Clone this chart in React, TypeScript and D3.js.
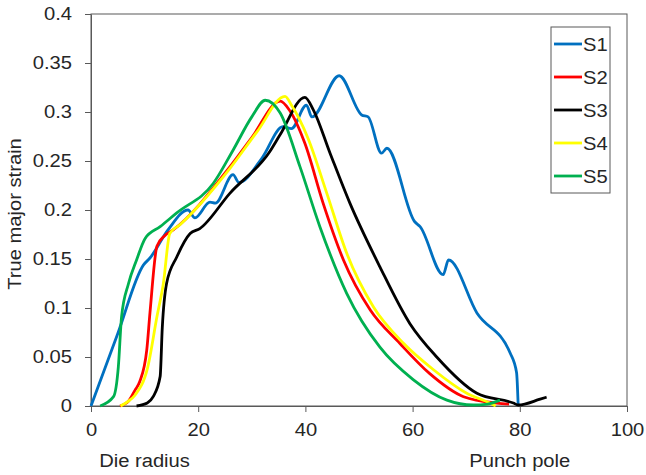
import { useEffect, useRef } from "react";
import * as d3 from "d3";

// distance along the blank (mm) and true major strain
const s1 = [
  [0, 0], [5, 0.074], [9.8, 0.144], [11, 0.151], [14.4, 0.18], [18.1, 0.2], [19.4, 0.192],
  [22.2, 0.208], [23.2, 0.207], [26.5, 0.236], [27.6, 0.228], [31.9, 0.253], [35.8, 0.285],
  [37.4, 0.283], [40.2, 0.307], [41.2, 0.295], [46.3, 0.337], [50.5, 0.297], [51.7, 0.295],
  [54.2, 0.258], [55.2, 0.263], [60.4, 0.188], [61.4, 0.183], [65.7, 0.134], [66.7, 0.149],
  [72, 0.095], [78.2, 0.054], [79.4, 0.034], [79.7, 0],
];
const s2 = [
  [5.4, 0], [7, 0.005], [8.2, 0.016], [9.1, 0.025], [10.4, 0.057], [11, 0.095], [12.3, 0.163],
  [13.8, 0.174], [15.4, 0.18], [25.9, 0.244], [30, 0.274], [35.3, 0.311], [37, 0.302],
  [39.9, 0.268], [43.3, 0.207], [47.1, 0.149], [52.1, 0.098], [57.6, 0.064], [63.2, 0.033],
  [69.5, 0.0095], [75.7, 0.003], [78, 0.002],
];
const s3 = [
  [8.5, 0], [10.5, 0.003], [11.6, 0.0095], [12.9, 0.03], [13.3, 0.08], [14.1, 0.125],
  [16, 0.152], [18.5, 0.176], [20.3, 0.181], [25.9, 0.217], [33.4, 0.26], [35.3, 0.277],
  [39.9, 0.315], [41.5, 0.302], [44.6, 0.258], [48.3, 0.207], [53.9, 0.142], [59.5, 0.084],
  [64.5, 0.05], [72, 0.013], [78.8, 0.003], [79.7, 0.001], [83.8, 0.007], [85, 0.009],
];
const s4 = [
  [5.5, 0], [7, 0.005], [8.2, 0.011], [10.6, 0.04], [12.3, 0.091], [13.5, 0.125], [14.7, 0.176],
  [16.6, 0.185], [26, 0.243], [31, 0.28], [36.2, 0.316], [37.5, 0.306], [40.5, 0.273],
  [44, 0.217], [47.7, 0.156], [52.7, 0.101], [58.3, 0.064], [63.9, 0.037], [70.1, 0.013],
  [74.4, 0.003], [75.5, 0],
];
const s5 = [
  [1.7, 0], [4.2, 0.0095], [5.1, 0.04], [5.7, 0.091], [7, 0.125], [8.5, 0.149], [10.1, 0.171],
  [12.9, 0.183], [16, 0.197], [22.8, 0.227], [26.5, 0.261], [30, 0.295], [32.5, 0.312],
  [35.3, 0.299], [39, 0.244], [42.7, 0.183], [47.7, 0.115], [53.9, 0.06], [60.1, 0.027],
  [66.4, 0.006], [71.3, 0.001], [74, 0.002], [76.3, 0.006],
];

const seriesNames = ["S1", "S2", "S3", "S4", "S5"];
const seriesData = [s1, s2, s3, s4, s5];
const seriesColors = ["#0070C0", "#FF0000", "#000000", "#FFFF00", "#00B050"];
const xTicks = [0, 20, 40, 60, 80, 100];
const yTicks = [0, 0.05, 0.1, 0.15, 0.2, 0.25, 0.3, 0.35, 0.4];

const App = () => {
  const svgRef = useRef(null);

  useEffect(() => {
    const svg = d3.select(svgRef.current);
    svg.selectAll("*").remove();

    const width = 646;
    const height = 475;
    const margin = { top: 14, right: 19, bottom: 69, left: 91 };
    const font = "Liberation Sans, Arial, sans-serif";
    const fontSize = "18px";
    const axisColor = "#595959";
    const textColor = "#262626";

    svg.attr("width", width).attr("height", height);

    const x = d3.scaleLinear().domain([0, 100]).range([margin.left, width - margin.right]);
    const y = d3.scaleLinear().domain([0, 0.4]).range([height - margin.bottom, margin.top]);

    // frame
    svg
      .append("rect")
      .attr("x", x(0))
      .attr("y", y(0.4))
      .attr("width", x(100) - x(0))
      .attr("height", y(0) - y(0.4))
      .style("fill", "none")
      .style("stroke", axisColor)
      .style("stroke-width", 1);

    // Axes
    const xAxis = svg
      .append("g")
      .attr("transform", `translate(0, ${y(0)})`)
      .call(d3.axisBottom(x).tickValues(xTicks).tickSize(6).tickSizeOuter(0).tickPadding(11));
    const yAxis = svg
      .append("g")
      .attr("transform", `translate(${x(0)}, 0)`)
      .call(
        d3.axisLeft(y).tickValues(yTicks).tickSize(6).tickSizeOuter(0).tickPadding(13)
          .tickFormat((d) => String(+(+d).toFixed(2)))
      );
    [xAxis, yAxis].forEach((a) => {
      a.select(".domain").style("stroke", axisColor);
      a.selectAll(".tick line").style("stroke", axisColor);
      a.selectAll("text")
        .style("font-family", font)
        .style("font-size", fontSize)
        .style("fill", textColor);
    });

    // Lines
    const line = d3
      .line()
      .x((d) => x(d[0]))
      .y((d) => y(d[1]))
      .curve(d3.curveMonotoneX);

    seriesData.forEach((data, i) => {
      svg
        .append("path")
        .datum(data)
        .attr("d", line)
        .style("fill", "none")
        .style("stroke", seriesColors[i])
        .style("stroke-width", 2.8)
        .style("stroke-linejoin", "round");
    });

    // Axis titles
    const title = (tx, ty, label, rotate = 0) =>
      svg
        .append("text")
        .attr("transform", `translate(${tx}, ${ty}) rotate(${rotate})`)
        .attr("text-anchor", "middle")
        .style("font-family", font)
        .style("font-size", fontSize)
        .style("fill", textColor)
        .text(label);

    title(144.5, 467, "Die radius");
    title(x(80), 467, "Punch pole");
    title(21, 214, "True major strain", -90);

    // Legend
    const legend = svg.append("g").attr("transform", "translate(551, 27)");
    legend
      .append("rect")
      .attr("width", 59)
      .attr("height", 166)
      .style("fill", "#fff")
      .style("stroke", axisColor);

    seriesNames.forEach((name, i) => {
      const ly = 17 + i * 33;
      legend
        .append("line")
        .attr("x1", 3)
        .attr("x2", 31)
        .attr("y1", ly)
        .attr("y2", ly)
        .style("stroke", seriesColors[i])
        .style("stroke-width", 2.8);
      legend
        .append("text")
        .attr("x", 32)
        .attr("y", ly + 6.5)
        .style("font-family", font)
        .style("font-size", fontSize)
        .style("fill", textColor)
        .text(name);
    });

    // the original's lettering is a bit wider than Liberation Sans
    svg.selectAll("text").each(function () {
      const len = this.getComputedTextLength();
      d3.select(this).attr("textLength", len * 1.12).attr("lengthAdjust", "spacingAndGlyphs");
    });
  }, []);

  return <svg ref={svgRef} style={{ display: "block", position: "absolute", left: 0, top: 0 }} />;
};

export default App;
